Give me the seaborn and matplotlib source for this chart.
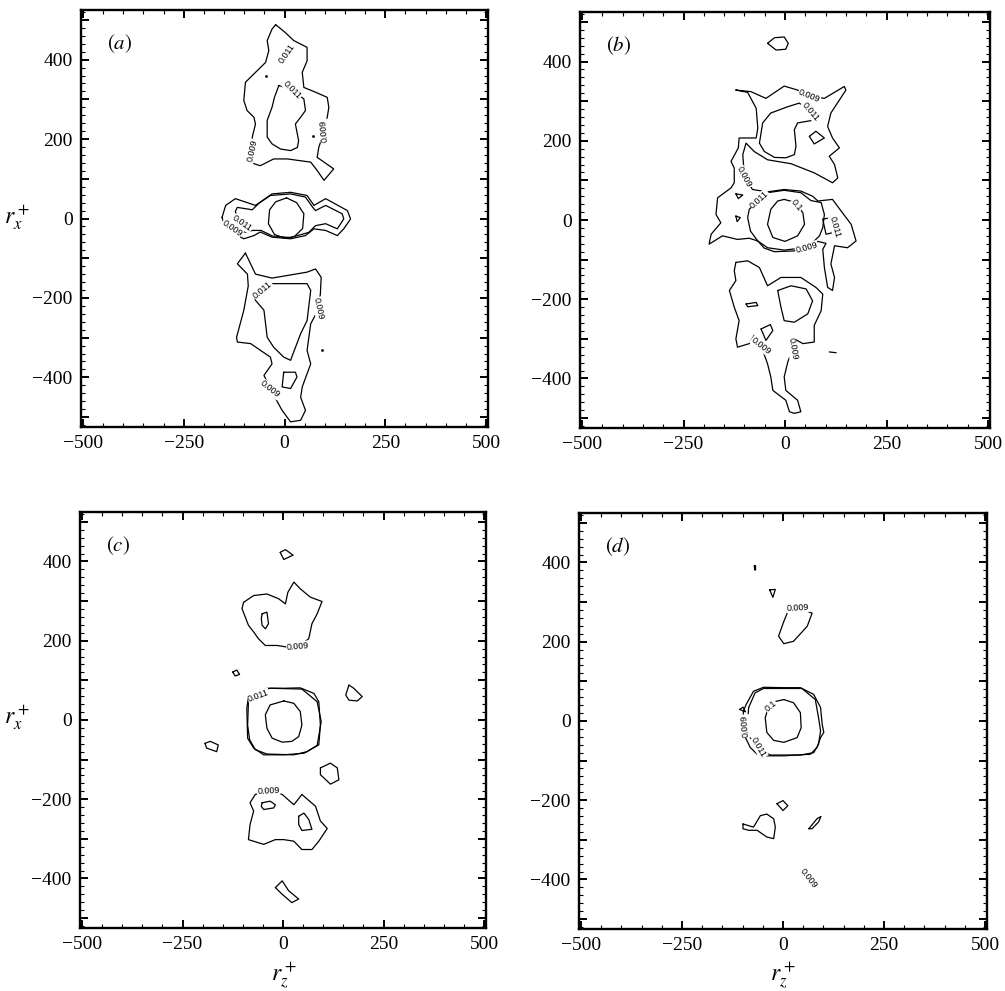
import pandas as pd
import seaborn as sns
import matplotlib.pyplot as plt
from matplotlib.ticker import MultipleLocator, FuncFormatter

# contour outlines as (r_z+, r_x+) pairs
# ---- panel (a)
a_up_outer = [(-22, 488), (0, 470), (23, 448), (56, 431), (56, 397), (44, 368), (48, 330), (77, 318),
              (106, 305), (110, 280), (106, 255), (99, 221), (85, 179), (81, 154), (122, 125), (98, 96),
              (81, 121), (65, 142), (7, 150), (-27, 150), (-60, 133), (-76, 138), (-80, 171), (-80, 205),
              (-72, 238), (-76, 255), (-93, 272), (-101, 297), (-97, 343), (-76, 364), (-47, 393),
              (-39, 423), (-43, 448), (-31, 477)]
a_up_inner = [(-14, 335), (-25, 305), (-31, 280), (-43, 247), (-43, 205), (-31, 188), (-10, 175), (15, 171),
              (32, 179), (35, 196), (27, 238), (40, 255), (52, 272), (48, 301), (19, 324)]
a_c_outer = [(-155, 3), (-146, 33), (-122, 50), (-72, 33), (-55, 45), (-31, 62), (15, 66), (56, 58), (73, 33),
             (102, 50), (156, 20), (164, -1), (147, -26), (131, -43), (102, -30), (73, -26), (52, -43),
             (15, -51), (-31, -47), (-60, -34), (-76, -43), (-101, -51), (-125, -38), (-150, -15)]
a_c_inner = [(-110, -30), (-122, 18), (-117, 28), (-80, 22), (-64, 38), (-35, 58), (15, 62), (52, 54), (70, 28),
             (77, 20), (102, 33), (143, 12), (147, -1), (131, -26), (102, -13), (77, -18), (60, -35), (15, -48),
             (-30, -44), (-58, -30), (-80, -30), (-95, -35)]
a_c_core = [(5, 52), (30, 40), (48, 12), (45, -25), (25, -45), (2, -50), (-25, -40), (-40, -13), (-37, 22),
            (-22, 42)]
a_low_outer = [(-97, -87), (-72, -140), (-31, -150), (56, -135), (77, -127), (91, -148), (89, -189), (85, -227),
               (65, -265), (56, -332), (65, -366), (44, -424), (40, -450), (52, -483), (40, -508), (15, -512),
               (-6, -483), (-35, -430), (-51, -395), (-31, -366), (-35, -349), (-84, -315), (-117, -311),
               (-119, -299), (-101, -231), (-90, -170), (-92, -140), (-117, -114)]
a_low_inner = [(-35, -164), (56, -164), (65, -181), (56, -257), (40, -290), (15, -357), (-2, -349), (-27, -324),
               (-43, -299), (-51, -231), (-72, -206), (-76, -185), (-55, -172)]
a_low_small = [(-2, -387), (27, -387), (31, -399), (15, -428), (-6, -424)]
a_dots = [(-45, 360), (70, 209), (93, -332)]
a_labels = [('0.011', 7, 414, 55), ('0.011', 19, 324, -45), ('0.009', 99, 221, 95), ('0.009', -80, 171, 78),
            ('0.011', -105, -13, -35), ('0.009', -130, -24, -35), ('0.011', -55, -179, 40),
            ('0.009', 85, -227, -78), ('0.009', -35, -430, -38)]

# ---- panel (b)
b_top = [(-43, 446), (-26, 460), (-2, 462), (8, 446), (2, 431), (-22, 429)]
b_big = [(-121, 328), (-84, 324), (-47, 307), (-2, 338), (31, 328), (60, 314), (97, 307), (146, 337), (150, 328),
         (113, 270), (105, 236), (117, 207), (134, 182), (109, 161), (122, 140), (130, 106), (117, 94), (72, 119),
         (15, 142), (-43, 152), (-76, 173), (-96, 194), (-104, 165), (-100, 108), (-80, 77), (-43, 71), (-2, 77),
         (39, 73), (68, 60), (81, 48), (117, 52), (138, 23), (163, -11), (175, -53), (154, -70), (122, -65),
         (113, -111), (122, -145), (117, -178), (105, -170), (97, -120), (93, -74), (101, -59), (81, -54),
         (53, -70), (23, -78), (-26, -80), (-51, -71), (-67, -53), (-88, -46), (-117, -49), (-154, -40),
         (-187, -61), (-182, -36), (-158, -7), (-170, 14), (-166, 56), (-133, 81), (-125, 94), (-125, 131),
         (-133, 148), (-115, 182), (-113, 207), (-71, 207), (-67, 232), (-71, 282), (-92, 322)]
b_ring = [(-80, 35), (-63, 52), (-43, 69), (-2, 75), (39, 69), (64, 49), (89, 44), (97, 14), (93, -19), (85, -40),
          (68, -57), (39, -71), (-2, -76), (-43, -70), (-67, -53), (-85, -28), (-92, 6), (-88, 27)]
b_box = [(93, 2), (113, 6), (117, -32), (101, -36)]
b_core = [(-2, 52), (27, 44), (44, 18), (48, -11), (31, -40), (0, -54), (-30, -44), (-43, -11), (-35, 27),
          (-18, 48)]
b_up_inner = [(-63, 194), (-55, 245), (-35, 270), (7, 286), (35, 295), (62, 274), (76, 253), (31, 245), (23, 228),
              (27, 186), (23, 165), (2, 157), (-26, 158), (-51, 173)]
b_diamond = [(60, 211), (76, 224), (97, 207), (72, 192)]
b_tri1 = [(-121, 66), (-104, 63), (-115, 54)]
b_tri2 = [(-121, 10), (-110, 6), (-118, -4)]
b_low_outer = [(-121, -107), (-92, -103), (-63, -120), (-43, -166), (-10, -145), (39, -145), (76, -170),
               (93, -187), (89, -229), (72, -266), (72, -308), (44, -312), (23, -300), (19, -325), (7, -358),
               (-2, -396), (2, -430), (31, -455), (39, -484), (23, -488), (11, -484), (2, -455), (-30, -430),
               (-35, -396), (-43, -363), (-59, -317), (-76, -291), (-88, -312), (-117, -321), (-121, -300),
               (-113, -254), (-125, -220), (-137, -178), (-121, -153), (-125, -128)]
b_low_core = [(-18, -178), (15, -166), (52, -174), (68, -204), (56, -237), (23, -258), (-2, -254), (-10, -220)]
b_low_small1 = [(-96, -212), (-71, -208), (-67, -216), (-92, -219)]
b_low_small2 = [(-59, -275), (-36, -264), (-30, -279), (-47, -304)]
b_dash = [(109, -333), (126, -335)]
b_labels = [('0.009', 60, 314, -22), ('0.011', 62, 274, -50), ('0.009', -100, 108, -62),
            ('0.011', -63, 52, 42), ('0.1', 29, 38, -50), ('0.011', 124, -18, -75), ('0.009', 53, -70, 15),
            ('0.009', 19, -325, -80), ('0.009', -59, -317, -38)]

# ---- panel (c)
c_top = [(-7, 423), (6, 430), (25, 416), (2, 405)]
c_up_outer = [(-98, 297), (-73, 314), (-40, 318), (-11, 306), (6, 293), (12, 322), (27, 348), (43, 331),
              (68, 310), (97, 299), (85, 268), (72, 243), (64, 205), (37, 184), (10, 184), (-15, 188),
              (-44, 188), (-61, 205), (-73, 222), (-86, 239), (-94, 260), (-102, 281)]
c_up_inner = [(-52, 268), (-40, 272), (-36, 243), (-44, 230), (-52, 239), (-54, 256)]
c_tiny = [(-125, 121), (-115, 126), (-108, 115), (-119, 111)]
c_right = [(164, 88), (176, 80), (197, 59), (185, 48), (164, 50), (156, 63)]
c_left = [(-194, -59), (-181, -54), (-161, -63), (-165, -80), (-190, -71)]
c_right_low = [(93, -121), (118, -109), (135, -121), (139, -151), (118, -162), (93, -138)]
c_ring_a = [(-86, 59), (-40, 80), (2, 80), (43, 81), (77, 67), (89, 46), (93, -13), (89, -63), (52, -84),
            (2, -88), (-48, -88), (-73, -71), (-88, -46), (-90, 29)]
c_ring_b = [(-86, 46), (-73, 67), (-32, 80), (47, 78), (85, 46), (95, -4), (85, -64), (60, -80), (27, -88),
            (-40, -86), (-69, -75), (-83, -50), (-88, -13)]
c_core = [(2, 48), (27, 42), (43, 21), (47, -13), (39, -42), (22, -54), (-2, -56), (-27, -46), (-40, -21),
          (-44, 13), (-32, 38)]
c_low_outer = [(-36, -180), (-2, -188), (27, -214), (47, -188), (81, -218), (93, -255), (110, -274), (89, -306),
               (72, -327), (47, -327), (27, -306), (2, -302), (-19, -302), (-48, -314), (-86, -302), (-82, -264),
               (-73, -230), (-82, -209), (-69, -188)]
c_low_in1 = [(-52, -209), (-32, -205), (-19, -214), (-23, -222), (-48, -226), (-54, -218)]
c_low_in2 = [(39, -243), (52, -235), (64, -251), (72, -276), (47, -279), (39, -264)]
c_bottom = [(-19, -423), (-2, -406), (14, -431), (39, -452), (22, -461), (-2, -440)]
c_labels = [('0.009', 37, 186, 5), ('0.011', -61, 61, 20), ('0.009', -36, -178, 3)]

# ---- panel (d)
d_dot = [(-71, 392), (-68, 392), (-68, 381), (-70, 381)]
d_tri = [(-33, 331), (-19, 332), (-25, 312)]
d_up = [(37, 286), (72, 272), (60, 239), (26, 201), (2, 195), (-11, 214), (2, 251), (14, 281)]
d_core = [(2, 54), (26, 46), (43, 21), (45, -17), (35, -42), (2, -54), (-23, -49), (-40, -29), (-44, 8),
          (-36, 34), (-19, 49)]
d_ring_a = [(-98, 25), (-91, 42), (-73, 75), (-48, 85), (2, 84), (43, 84), (76, 67), (93, 34), (97, -8),
            (101, -29), (93, -42), (84, -67), (68, -84), (2, -88), (-40, -88), (-64, -84), (-81, -67),
            (-93, -42), (-99, -8)]
d_ring_b = [(-85, 34), (-69, 71), (-48, 82), (47, 82), (80, 54), (88, 8), (93, -25), (88, -59), (76, -80),
            (43, -86), (-31, -86), (-64, -71), (-81, -42), (-88, -8)]
d_tri_left = [(-107, 29), (-99, 35), (-93, 23)]
d_diamond = [(-15, -209), (0, -201), (12, -214), (0, -226)]
d_blob = [(-99, -260), (-73, -268), (-56, -239), (-40, -235), (-23, -247), (-19, -268), (-23, -297), (-40, -293),
          (-64, -276), (-85, -276), (-99, -272)]
d_thin = [(64, -272), (84, -247), (94, -241), (88, -255), (72, -272)]
d_labels = [('0.009', 37, 286, 3), ('0.1', -31, 38, 40), ('0.009', -93, -13, 95), ('0.011', -60, -67, -60),
            ('0.009', 64, -398, -52)]

panels = {
    '(a)': ([a_up_outer, a_up_inner, a_c_outer, a_c_inner, a_c_core, a_low_outer, a_low_inner, a_low_small],
            a_labels, a_dots),
    '(b)': ([b_top, b_big, b_ring, b_box, b_core, b_up_inner, b_diamond, b_tri1, b_tri2, b_low_outer,
             b_low_core, b_low_small1, b_low_small2, b_dash], b_labels, []),
    '(c)': ([c_top, c_up_outer, c_up_inner, c_tiny, c_right, c_left, c_right_low, c_ring_a, c_ring_b, c_core,
             c_low_outer, c_low_in1, c_low_in2, c_bottom], c_labels, []),
    '(d)': ([d_dot, d_tri, d_up, d_core, d_ring_a, d_ring_b, d_tri_left, d_diamond, d_blob, d_thin],
            d_labels, []),
}


def to_frame(contours):
    rows = []
    for cid, pts in enumerate(contours):
        closed = list(pts) + [pts[0]] if len(pts) > 2 else list(pts)
        for k, (x, y) in enumerate(closed):
            rows.append({'cid': cid, 'k': k, 'rz': x, 'rx': y})
    return pd.DataFrame(rows)


sns.set_style('ticks', {'axes.edgecolor': 'black', 'xtick.color': 'black', 'ytick.color': 'black',
                        'text.color': 'black', 'axes.labelcolor': 'black'})
plt.rcParams['font.family'] = ['Liberation Serif', 'DejaVu Serif']
plt.rcParams['mathtext.fontset'] = 'stix'

fig = plt.figure(figsize=(10.05, 9.91), dpi=100)
rects = {
    '(a)': [0.0806, 0.5691, 0.4050, 0.4208],
    '(b)': [0.5771, 0.5681, 0.4080, 0.4198],
    '(c)': [0.0796, 0.0636, 0.4040, 0.4198],
    '(d)': [0.5761, 0.0626, 0.4060, 0.4198],
}

for name, (contours, labels, dots) in panels.items():
    ax = fig.add_axes(rects[name])
    df = to_frame(contours)
    sns.lineplot(data=df, x='rz', y='rx', units='cid', estimator=None, sort=False,
                 color='black', linewidth=0.9, legend=False, ax=ax)
    if dots:
        dd = pd.DataFrame(dots, columns=['rz', 'rx'])
        sns.scatterplot(data=dd, x='rz', y='rx', color='black', s=4, linewidth=0, ax=ax)
    for txt, x, y, rot in labels:
        ax.text(x, y, txt, rotation=rot, rotation_mode='anchor', ha='center', va='center',
                fontsize=6.5, family='Liberation Sans', color='black',
                bbox=dict(fc='white', ec='none', pad=0.3))
    ax.text(-440, 440, r'$(\mathit{' + name[1] + r'})$', fontsize=15, ha='left', va='center')

    ax.set_xlim(-505, 505)
    ax.set_ylim(-525, 525)
    ax.set_xlabel('')
    ax.set_ylabel('')
    ax.xaxis.set_major_locator(MultipleLocator(250))
    ax.xaxis.set_minor_locator(MultipleLocator(50))
    ax.yaxis.set_major_locator(MultipleLocator(100))
    ax.yaxis.set_minor_locator(MultipleLocator(20))
    ax.yaxis.set_major_formatter(FuncFormatter(
        lambda v, p: f'{int(v)}'.replace('-', '\u2212') if round(v) % 200 == 0 else ''))
    ax.xaxis.set_major_formatter(FuncFormatter(lambda v, p: f'{int(v)}'.replace('-', '\u2212')))
    ax.tick_params(which='both', direction='in', top=True, right=True, labelsize=14, pad=6,
                   colors='black')
    ax.tick_params(which='major', length=6, width=1.4)
    ax.tick_params(which='minor', length=3, width=0.8)
    for sp in ax.spines.values():
        sp.set_linewidth(1.7)
        sp.set_color('black')

# axis titles
fig.text(17 / 1005, 1 - 218 / 991, r'$r_x^+$', fontsize=17, ha='center', va='center')
fig.text(17 / 1005, 1 - 718 / 991, r'$r_x^+$', fontsize=17, ha='center', va='center')
fig.text(284 / 1005, 1 - 976 / 991, r'$r_z^+$', fontsize=17, ha='center', va='center')
fig.text(783 / 1005, 1 - 976 / 991, r'$r_z^+$', fontsize=17, ha='center', va='center')

fig.savefig('out.png', dpi=100)
